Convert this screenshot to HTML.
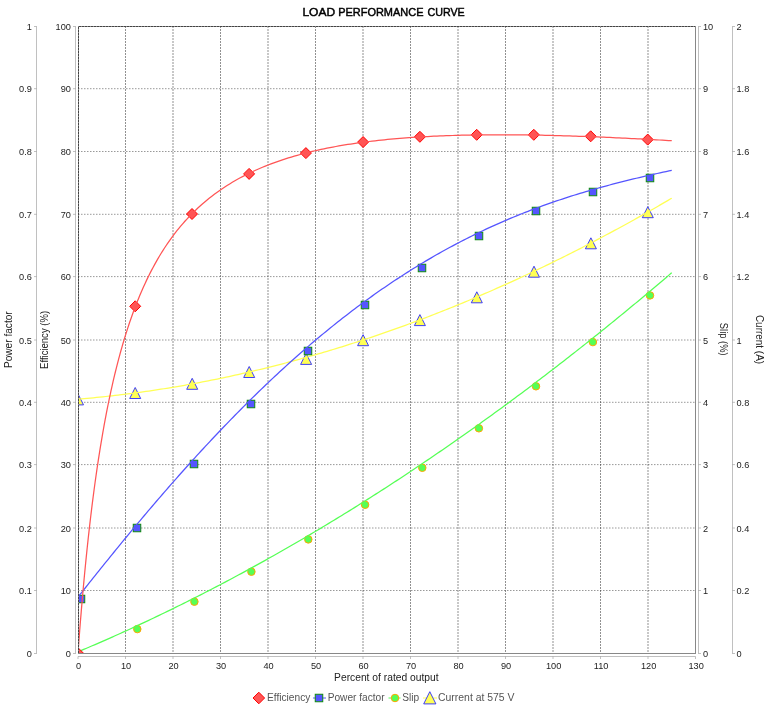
<!DOCTYPE html><html><head><meta charset="utf-8"><style>html,body{margin:0;padding:0;background:#fff;width:771px;height:712px;overflow:hidden}</style></head><body><svg width="771" height="712" viewBox="0 0 771 712" style="position:absolute;left:0;top:0">
<rect width="771" height="712" fill="#fff"/>
<g style="will-change:transform">
<text stroke="#000" stroke-width="0.45" x="302.41" y="16" font-family="Liberation Sans" font-weight="normal" font-size="11" fill="#000" textLength="32.64" lengthAdjust="spacingAndGlyphs">LOAD</text>
<text stroke="#000" stroke-width="0.45" x="338.20" y="16" font-family="Liberation Sans" font-weight="normal" font-size="11" fill="#000" textLength="85.26" lengthAdjust="spacingAndGlyphs">PERFORMANCE</text>
<text stroke="#000" stroke-width="0.45" x="427.43" y="16" font-family="Liberation Sans" font-weight="normal" font-size="11" fill="#000" textLength="37.28" lengthAdjust="spacingAndGlyphs">CURVE</text>
</g>
<g stroke="#222" stroke-width="0.5" stroke-dasharray="2 1" fill="none"><line x1="125.5" y1="26" x2="125.5" y2="653.5" /><line x1="173.0" y1="26" x2="173.0" y2="653.5" /><line x1="220.5" y1="26" x2="220.5" y2="653.5" /><line x1="268.0" y1="26" x2="268.0" y2="653.5" /><line x1="315.5" y1="26" x2="315.5" y2="653.5" /><line x1="363.0" y1="26" x2="363.0" y2="653.5" /><line x1="410.5" y1="26" x2="410.5" y2="653.5" /><line x1="458.0" y1="26" x2="458.0" y2="653.5" /><line x1="505.5" y1="26" x2="505.5" y2="653.5" /><line x1="553.0" y1="26" x2="553.0" y2="653.5" /><line x1="600.5" y1="26" x2="600.5" y2="653.5" /><line x1="648.0" y1="26" x2="648.0" y2="653.5" /></g>
<g stroke="#333" stroke-width="0.5" stroke-dasharray="1.5 1.5" fill="none"><line x1="78" y1="590.5" x2="695.5" y2="590.5" /><line x1="78" y1="528.0" x2="695.5" y2="528.0" /><line x1="78" y1="464.6" x2="695.5" y2="464.6" /><line x1="78" y1="402.3" x2="695.5" y2="402.3" /><line x1="78" y1="340.0" x2="695.5" y2="340.0" /><line x1="78" y1="276.6" x2="695.5" y2="276.6" /><line x1="78" y1="214.3" x2="695.5" y2="214.3" /><line x1="78" y1="151.5" x2="695.5" y2="151.5" /><line x1="78" y1="88.7" x2="695.5" y2="88.7" /></g>
<g stroke="#808080" stroke-width="0.5" fill="none"><line x1="36.5" y1="26.25" x2="36.5" y2="653.75"/><line x1="75.5" y1="26.25" x2="75.5" y2="653.75"/><line x1="698.5" y1="26.25" x2="698.5" y2="653.75"/><line x1="732.5" y1="26.25" x2="732.5" y2="653.75"/><line x1="78" y1="656.5" x2="695.5" y2="656.5"/><line x1="34" y1="653.5" x2="36.5" y2="653.5"/><line x1="73" y1="653.5" x2="75.5" y2="653.5"/><line x1="698.5" y1="653.5" x2="701" y2="653.5"/><line x1="732.5" y1="653.5" x2="735" y2="653.5"/><line x1="34" y1="590.5" x2="36.5" y2="590.5"/><line x1="73" y1="590.5" x2="75.5" y2="590.5"/><line x1="698.5" y1="590.5" x2="701" y2="590.5"/><line x1="732.5" y1="590.5" x2="735" y2="590.5"/><line x1="34" y1="528.0" x2="36.5" y2="528.0"/><line x1="73" y1="528.0" x2="75.5" y2="528.0"/><line x1="698.5" y1="528.0" x2="701" y2="528.0"/><line x1="732.5" y1="528.0" x2="735" y2="528.0"/><line x1="34" y1="464.6" x2="36.5" y2="464.6"/><line x1="73" y1="464.6" x2="75.5" y2="464.6"/><line x1="698.5" y1="464.6" x2="701" y2="464.6"/><line x1="732.5" y1="464.6" x2="735" y2="464.6"/><line x1="34" y1="402.3" x2="36.5" y2="402.3"/><line x1="73" y1="402.3" x2="75.5" y2="402.3"/><line x1="698.5" y1="402.3" x2="701" y2="402.3"/><line x1="732.5" y1="402.3" x2="735" y2="402.3"/><line x1="34" y1="340.0" x2="36.5" y2="340.0"/><line x1="73" y1="340.0" x2="75.5" y2="340.0"/><line x1="698.5" y1="340.0" x2="701" y2="340.0"/><line x1="732.5" y1="340.0" x2="735" y2="340.0"/><line x1="34" y1="276.6" x2="36.5" y2="276.6"/><line x1="73" y1="276.6" x2="75.5" y2="276.6"/><line x1="698.5" y1="276.6" x2="701" y2="276.6"/><line x1="732.5" y1="276.6" x2="735" y2="276.6"/><line x1="34" y1="214.3" x2="36.5" y2="214.3"/><line x1="73" y1="214.3" x2="75.5" y2="214.3"/><line x1="698.5" y1="214.3" x2="701" y2="214.3"/><line x1="732.5" y1="214.3" x2="735" y2="214.3"/><line x1="34" y1="151.5" x2="36.5" y2="151.5"/><line x1="73" y1="151.5" x2="75.5" y2="151.5"/><line x1="698.5" y1="151.5" x2="701" y2="151.5"/><line x1="732.5" y1="151.5" x2="735" y2="151.5"/><line x1="34" y1="88.7" x2="36.5" y2="88.7"/><line x1="73" y1="88.7" x2="75.5" y2="88.7"/><line x1="698.5" y1="88.7" x2="701" y2="88.7"/><line x1="732.5" y1="88.7" x2="735" y2="88.7"/><line x1="34" y1="26.5" x2="36.5" y2="26.5"/><line x1="73" y1="26.5" x2="75.5" y2="26.5"/><line x1="698.5" y1="26.5" x2="701" y2="26.5"/><line x1="732.5" y1="26.5" x2="735" y2="26.5"/><line x1="78.0" y1="656.5" x2="78.0" y2="659"/><line x1="125.5" y1="656.5" x2="125.5" y2="659"/><line x1="173.0" y1="656.5" x2="173.0" y2="659"/><line x1="220.5" y1="656.5" x2="220.5" y2="659"/><line x1="268.0" y1="656.5" x2="268.0" y2="659"/><line x1="315.5" y1="656.5" x2="315.5" y2="659"/><line x1="363.0" y1="656.5" x2="363.0" y2="659"/><line x1="410.5" y1="656.5" x2="410.5" y2="659"/><line x1="458.0" y1="656.5" x2="458.0" y2="659"/><line x1="505.5" y1="656.5" x2="505.5" y2="659"/><line x1="553.0" y1="656.5" x2="553.0" y2="659"/><line x1="600.5" y1="656.5" x2="600.5" y2="659"/><line x1="648.0" y1="656.5" x2="648.0" y2="659"/><line x1="695.5" y1="656.5" x2="695.5" y2="659"/></g>
<g font-family="Liberation Sans" font-size="9.2" fill="#222" style="will-change:transform"><text x="31.9" y="657" text-anchor="end">0</text><text x="70.9" y="657" text-anchor="end">0</text><text x="703" y="657">0</text><text x="736.5" y="657">0</text><text x="31.9" y="594" text-anchor="end">0.1</text><text x="70.9" y="594" text-anchor="end">10</text><text x="703" y="594">1</text><text x="736.5" y="594">0.2</text><text x="31.9" y="532" text-anchor="end">0.2</text><text x="70.9" y="532" text-anchor="end">20</text><text x="703" y="532">2</text><text x="736.5" y="532">0.4</text><text x="31.9" y="468" text-anchor="end">0.3</text><text x="70.9" y="468" text-anchor="end">30</text><text x="703" y="468">3</text><text x="736.5" y="468">0.6</text><text x="31.9" y="406" text-anchor="end">0.4</text><text x="70.9" y="406" text-anchor="end">40</text><text x="703" y="406">4</text><text x="736.5" y="406">0.8</text><text x="31.9" y="344" text-anchor="end">0.5</text><text x="70.9" y="344" text-anchor="end">50</text><text x="703" y="344">5</text><text x="736.5" y="344">1</text><text x="31.9" y="280" text-anchor="end">0.6</text><text x="70.9" y="280" text-anchor="end">60</text><text x="703" y="280">6</text><text x="736.5" y="280">1.2</text><text x="31.9" y="218" text-anchor="end">0.7</text><text x="70.9" y="218" text-anchor="end">70</text><text x="703" y="218">7</text><text x="736.5" y="218">1.4</text><text x="31.9" y="155" text-anchor="end">0.8</text><text x="70.9" y="155" text-anchor="end">80</text><text x="703" y="155">8</text><text x="736.5" y="155">1.6</text><text x="31.9" y="92" text-anchor="end">0.9</text><text x="70.9" y="92" text-anchor="end">90</text><text x="703" y="92">9</text><text x="736.5" y="92">1.8</text><text x="31.9" y="30" text-anchor="end">1</text><text x="70.9" y="30" text-anchor="end">100</text><text x="703" y="30">10</text><text x="736.5" y="30">2</text><text x="78.6" y="669" text-anchor="middle">0</text><text x="126.1" y="669" text-anchor="middle">10</text><text x="173.6" y="669" text-anchor="middle">20</text><text x="221.1" y="669" text-anchor="middle">30</text><text x="268.6" y="669" text-anchor="middle">40</text><text x="316.1" y="669" text-anchor="middle">50</text><text x="363.6" y="669" text-anchor="middle">60</text><text x="411.1" y="669" text-anchor="middle">70</text><text x="458.6" y="669" text-anchor="middle">80</text><text x="506.1" y="669" text-anchor="middle">90</text><text x="553.6" y="669" text-anchor="middle">100</text><text x="601.1" y="669" text-anchor="middle">110</text><text x="648.6" y="669" text-anchor="middle">120</text><text x="696.1" y="669" text-anchor="middle">130</text></g>
<g style="will-change:transform">
<text x="334.07" y="681" font-family="Liberation Sans" font-weight="normal" font-size="10" fill="#222" textLength="104.55" lengthAdjust="spacingAndGlyphs">Percent of rated output</text>
<text transform="translate(12.1,368.11) rotate(-90)" font-family="Liberation Sans" font-size="10" fill="#222" textLength="56.86" lengthAdjust="spacingAndGlyphs">Power factor</text>
<text transform="translate(48.1,368.95) rotate(-90)" font-family="Liberation Sans" font-size="10" fill="#222" textLength="58.06" lengthAdjust="spacingAndGlyphs">Efficiency (%)</text>
<text transform="translate(719.9,322.87) rotate(90)" font-family="Liberation Sans" font-size="10" fill="#222" textLength="32.68" lengthAdjust="spacingAndGlyphs">Slip (%)</text>
<text transform="translate(755.9,314.90) rotate(90)" font-family="Liberation Sans" font-size="10" fill="#222" textLength="49.25" lengthAdjust="spacingAndGlyphs">Current (A)</text>
</g>
<defs><clipPath id="pc"><rect x="78" y="26" width="617.5" height="627.5"/></clipPath></defs>
<g clip-path="url(#pc)">
<g fill="#ffff55" stroke="#2a2aff" stroke-width="0.9"><path d="M78.00,393.90 L83.50,404.90 L72.50,404.90 Z"/><path d="M135.20,387.50 L140.70,398.50 L129.70,398.50 Z"/><path d="M192.20,378.30 L197.70,389.30 L186.70,389.30 Z"/><path d="M249.20,366.50 L254.70,377.50 L243.70,377.50 Z"/><path d="M306.10,353.40 L311.60,364.40 L300.60,364.40 Z"/><path d="M363.10,334.70 L368.60,345.70 L357.60,345.70 Z"/><path d="M419.90,314.60 L425.40,325.60 L414.40,325.60 Z"/><path d="M476.80,291.80 L482.30,302.80 L471.30,302.80 Z"/><path d="M534.00,266.20 L539.50,277.20 L528.50,277.20 Z"/><path d="M590.90,237.80 L596.40,248.80 L585.40,248.80 Z"/><path d="M647.80,206.70 L653.30,217.70 L642.30,217.70 Z"/></g>
<path d="M78.00,399.18 L81.09,398.92 L84.18,398.64 L87.26,398.36 L90.35,398.07 L93.44,397.78 L96.53,397.47 L99.62,397.15 L102.70,396.83 L105.79,396.50 L108.88,396.16 L111.97,395.81 L115.06,395.46 L118.15,395.09 L121.23,394.72 L124.32,394.34 L127.41,393.95 L130.50,393.55 L133.59,393.15 L136.67,392.73 L139.76,392.31 L142.85,391.88 L145.94,391.44 L148.91,391.01 L151.88,390.57 L154.85,390.13 L157.82,389.68 L160.79,389.22 L163.75,388.75 L166.72,388.27 L169.69,387.79 L172.66,387.30 L175.63,386.80 L178.60,386.29 L181.57,385.78 L184.54,385.26 L187.51,384.73 L190.48,384.19 L193.45,383.65 L196.42,383.10 L199.39,382.54 L202.36,381.97 L205.33,381.39 L208.29,380.81 L211.26,380.22 L214.23,379.62 L217.20,379.02 L220.17,378.41 L223.14,377.79 L226.11,377.16 L229.08,376.52 L232.05,375.88 L235.02,375.23 L237.99,374.57 L240.96,373.91 L243.93,373.23 L246.90,372.55 L249.87,371.86 L252.83,371.17 L255.80,370.46 L258.77,369.75 L261.74,369.03 L264.71,368.31 L267.68,367.57 L270.65,366.83 L273.62,366.08 L276.59,365.33 L279.56,364.56 L282.53,363.79 L285.50,363.01 L288.47,362.22 L291.44,361.43 L294.41,360.63 L297.38,359.82 L300.34,359.00 L303.31,358.18 L306.28,357.34 L309.25,356.51 L312.22,355.66 L315.19,354.80 L318.16,353.94 L321.13,353.07 L324.10,352.20 L327.07,351.31 L330.04,350.42 L333.01,349.52 L335.98,348.61 L338.95,347.70 L341.92,346.78 L344.88,345.85 L347.85,344.91 L350.82,343.96 L353.79,343.01 L356.76,342.05 L359.73,341.09 L362.58,340.15 L365.43,339.21 L368.28,338.26 L371.13,337.30 L373.98,336.34 L376.83,335.37 L379.69,334.39 L382.54,333.41 L385.39,332.42 L388.24,331.42 L391.09,330.42 L393.94,329.41 L396.79,328.39 L399.64,327.36 L402.49,326.33 L405.34,325.29 L408.19,324.25 L411.04,323.20 L413.89,322.14 L416.74,321.07 L419.59,320.00 L422.44,318.92 L425.29,317.83 L428.15,316.74 L431.00,315.64 L433.85,314.53 L436.70,313.42 L439.55,312.29 L442.40,311.17 L445.25,310.03 L448.10,308.89 L450.95,307.74 L453.80,306.59 L456.65,305.43 L459.50,304.26 L462.35,303.08 L465.20,301.90 L468.05,300.71 L470.90,299.51 L473.75,298.31 L476.60,297.10 L479.46,295.89 L482.31,294.66 L485.16,293.43 L488.01,292.20 L490.86,290.95 L493.71,289.70 L496.56,288.44 L499.41,287.18 L502.26,285.91 L505.11,284.63 L507.96,283.35 L510.81,282.06 L513.54,280.81 L516.28,279.56 L519.01,278.31 L521.74,277.04 L524.47,275.77 L527.20,274.50 L529.93,273.22 L532.67,271.93 L535.40,270.64 L538.13,269.34 L540.86,268.03 L543.59,266.72 L546.32,265.40 L549.06,264.07 L551.79,262.74 L554.52,261.41 L557.25,260.06 L559.98,258.71 L562.72,257.36 L565.45,256.00 L568.18,254.63 L570.91,253.25 L573.64,251.87 L576.37,250.49 L579.11,249.09 L581.84,247.69 L584.57,246.29 L587.30,244.88 L590.03,243.46 L592.77,242.04 L595.50,240.61 L598.23,239.17 L600.96,237.73 L603.69,236.28 L606.42,234.82 L609.16,233.36 L611.89,231.90 L614.62,230.42 L617.35,228.94 L620.08,227.46 L622.82,225.96 L625.55,224.47 L628.28,222.96 L631.01,221.45 L633.74,219.94 L636.47,218.41 L639.21,216.88 L641.94,215.35 L644.55,213.88 L647.16,212.40 L649.78,210.91 L652.39,209.42 L655.00,207.92 L657.62,206.42 L660.23,204.91 L662.84,203.40 L665.45,201.88 L668.07,200.36 L670.68,198.83 L671.75,198.20" stroke="#ffff55" stroke-width="1.25" fill="none"/>
<g fill="#55ff55" stroke="#ffa500" stroke-width="1"><circle cx="137.30" cy="629.10" r="3.75"/><circle cx="194.40" cy="601.70" r="3.75"/><circle cx="251.40" cy="571.70" r="3.75"/><circle cx="308.30" cy="539.40" r="3.75"/><circle cx="365.10" cy="504.80" r="3.75"/><circle cx="422.30" cy="467.80" r="3.75"/><circle cx="478.90" cy="428.30" r="3.75"/><circle cx="536.00" cy="386.30" r="3.75"/><circle cx="592.90" cy="342.10" r="3.75"/><circle cx="650.00" cy="295.40" r="3.75"/></g>
<path d="M78.00,651.85 L80.85,650.65 L83.70,649.44 L86.55,648.23 L89.40,647.01 L92.25,645.79 L95.10,644.56 L97.95,643.33 L100.80,642.08 L103.66,640.84 L106.51,639.58 L109.36,638.32 L112.21,637.06 L115.06,635.79 L117.91,634.51 L120.76,633.23 L123.61,631.94 L126.34,630.70 L129.07,629.45 L131.80,628.20 L134.54,626.94 L137.27,625.68 L140.00,624.41 L142.73,623.13 L145.46,621.85 L148.20,620.57 L150.93,619.28 L153.66,617.98 L156.39,616.68 L159.12,615.37 L161.85,614.06 L164.59,612.74 L167.32,611.41 L170.05,610.09 L172.78,608.75 L175.51,607.41 L178.25,606.06 L180.98,604.71 L183.71,603.35 L186.44,601.99 L189.17,600.62 L191.90,599.25 L194.64,597.87 L197.37,596.49 L200.10,595.10 L202.83,593.70 L205.56,592.30 L208.29,590.89 L211.03,589.48 L213.76,588.06 L216.49,586.64 L219.22,585.21 L221.95,583.78 L224.69,582.34 L227.42,580.89 L230.15,579.44 L232.88,577.98 L235.61,576.52 L238.34,575.06 L241.08,573.58 L243.81,572.10 L246.54,570.62 L249.27,569.13 L252.00,567.64 L254.74,566.14 L257.47,564.63 L260.20,563.12 L262.93,561.60 L265.66,560.08 L268.39,558.55 L271.13,557.02 L273.86,555.48 L276.47,554.00 L279.08,552.52 L281.70,551.03 L284.31,549.54 L286.92,548.04 L289.54,546.54 L292.15,545.03 L294.76,543.52 L297.38,542.00 L299.99,540.48 L302.60,538.95 L305.21,537.42 L307.83,535.89 L310.44,534.34 L313.05,532.80 L315.67,531.24 L318.28,529.68 L320.89,528.12 L323.51,526.55 L326.12,524.98 L328.73,523.40 L331.34,521.82 L333.96,520.23 L336.57,518.64 L339.18,517.04 L341.80,515.44 L344.41,513.83 L347.02,512.22 L349.64,510.60 L352.25,508.98 L354.86,507.35 L357.47,505.72 L360.09,504.08 L362.70,502.44 L365.31,500.79 L367.93,499.14 L370.54,497.48 L373.15,495.81 L375.77,494.15 L378.38,492.47 L380.99,490.79 L383.60,489.11 L386.22,487.42 L388.83,485.73 L391.44,484.03 L394.06,482.33 L396.67,480.62 L399.28,478.91 L401.90,477.19 L404.51,475.46 L407.12,473.74 L409.74,472.00 L412.35,470.26 L414.96,468.52 L417.46,466.85 L419.95,465.18 L422.44,463.50 L424.94,461.82 L427.43,460.13 L429.93,458.44 L432.42,456.74 L434.92,455.04 L437.41,453.34 L439.90,451.63 L442.40,449.91 L444.89,448.19 L447.39,446.47 L449.88,444.74 L452.37,443.01 L454.87,441.27 L457.36,439.53 L459.86,437.78 L462.35,436.03 L464.85,434.27 L467.34,432.51 L469.83,430.75 L472.33,428.98 L474.82,427.20 L477.32,425.43 L479.81,423.64 L482.31,421.85 L484.80,420.06 L487.29,418.27 L489.79,416.46 L492.28,414.66 L494.78,412.85 L497.27,411.03 L499.77,409.21 L502.26,407.39 L504.75,405.56 L507.25,403.73 L509.74,401.89 L512.24,400.04 L514.73,398.20 L517.23,396.35 L519.72,394.49 L522.21,392.63 L524.71,390.76 L527.20,388.89 L529.70,387.02 L532.19,385.14 L534.69,383.26 L537.18,381.37 L539.67,379.48 L542.17,377.58 L544.66,375.68 L547.16,373.77 L549.65,371.86 L552.14,369.94 L554.64,368.02 L557.01,366.19 L559.39,364.35 L561.77,362.51 L564.14,360.67 L566.52,358.82 L568.89,356.96 L571.27,355.11 L573.64,353.24 L576.02,351.38 L578.39,349.51 L580.77,347.63 L583.14,345.75 L585.52,343.87 L587.90,341.99 L590.27,340.09 L592.65,338.20 L595.02,336.30 L597.40,334.40 L599.77,332.49 L602.15,330.58 L604.52,328.66 L606.90,326.74 L609.28,324.82 L611.65,322.89 L614.03,320.96 L616.40,319.02 L618.78,317.08 L621.15,315.14 L623.53,313.19 L625.90,311.24 L628.28,309.28 L630.65,307.32 L633.03,305.35 L635.41,303.38 L637.78,301.41 L640.16,299.43 L642.53,297.45 L644.91,295.46 L647.28,293.47 L649.66,291.48 L652.03,289.48 L654.41,287.48 L656.78,285.47 L659.16,283.46 L661.54,281.45 L663.91,279.43 L666.29,277.41 L668.66,275.38 L671.04,273.35 L671.75,272.74" stroke="#55ff55" stroke-width="1.25" fill="none"/>
<g fill="#5555ff" stroke="#108a10" stroke-width="1"><rect x="77.25" y="595.25" width="7.5" height="7.5"/><rect x="133.25" y="524.25" width="7.5" height="7.5"/><rect x="190.25" y="460.25" width="7.5" height="7.5"/><rect x="247.25" y="400.25" width="7.5" height="7.5"/><rect x="304.25" y="347.25" width="7.5" height="7.5"/><rect x="361.25" y="301.25" width="7.5" height="7.5"/><rect x="418.25" y="264.25" width="7.5" height="7.5"/><rect x="475.25" y="232.25" width="7.5" height="7.5"/><rect x="532.25" y="207.25" width="7.5" height="7.5"/><rect x="589.25" y="188.25" width="7.5" height="7.5"/><rect x="646.25" y="174.25" width="7.5" height="7.5"/></g>
<path d="M78.00,597.11 L79.90,594.70 L81.80,592.29 L83.70,589.89 L85.60,587.49 L87.50,585.09 L89.40,582.70 L91.30,580.32 L93.20,577.93 L95.10,575.55 L97.00,573.18 L98.90,570.81 L100.80,568.44 L102.70,566.08 L104.61,563.72 L106.51,561.37 L108.41,559.02 L110.31,556.67 L112.21,554.33 L114.11,552.00 L116.01,549.67 L117.91,547.34 L119.93,544.87 L121.95,542.41 L123.97,539.96 L125.98,537.51 L128.00,535.07 L130.02,532.63 L132.04,530.20 L134.06,527.77 L136.08,525.35 L138.10,522.94 L140.12,520.53 L142.14,518.13 L144.16,515.74 L146.18,513.35 L148.20,510.96 L150.21,508.59 L152.23,506.22 L154.25,503.86 L156.27,501.50 L158.29,499.15 L160.31,496.81 L162.33,494.47 L164.35,492.14 L166.37,489.82 L168.39,487.50 L170.41,485.19 L172.43,482.89 L174.44,480.60 L176.46,478.31 L178.48,476.03 L180.50,473.75 L182.52,471.49 L184.54,469.23 L186.56,466.98 L188.58,464.73 L190.60,462.50 L192.62,460.27 L194.64,458.05 L196.77,455.70 L198.91,453.37 L201.05,451.04 L203.19,448.72 L205.33,446.41 L207.46,444.11 L209.60,441.82 L211.74,439.54 L213.88,437.27 L216.02,435.00 L218.15,432.74 L220.29,430.50 L222.43,428.26 L224.57,426.03 L226.70,423.81 L228.84,421.60 L230.98,419.40 L233.12,417.21 L235.26,415.03 L237.39,412.85 L239.53,410.69 L241.67,408.54 L243.81,406.39 L245.95,404.26 L248.08,402.13 L250.22,400.02 L252.36,397.91 L254.62,395.70 L256.87,393.49 L259.13,391.30 L261.39,389.12 L263.64,386.95 L265.90,384.80 L268.16,382.65 L270.41,380.51 L272.67,378.39 L274.93,376.27 L277.18,374.17 L279.44,372.08 L281.70,370.00 L283.95,367.93 L286.21,365.87 L288.47,363.83 L290.72,361.79 L292.98,359.77 L295.24,357.76 L297.49,355.75 L299.75,353.76 L302.01,351.79 L304.38,349.72 L306.76,347.66 L309.13,345.61 L311.51,343.58 L313.88,341.56 L316.26,339.56 L318.64,337.56 L321.01,335.58 L323.39,333.61 L325.76,331.66 L328.14,329.72 L330.51,327.79 L332.89,325.87 L335.26,323.97 L337.64,322.08 L340.01,320.20 L342.39,318.34 L344.77,316.48 L347.14,314.65 L349.64,312.73 L352.13,310.83 L354.62,308.94 L357.12,307.06 L359.61,305.20 L362.11,303.36 L364.60,301.53 L367.10,299.71 L369.59,297.91 L372.08,296.12 L374.58,294.35 L377.07,292.59 L379.57,290.84 L382.06,289.11 L384.56,287.39 L387.05,285.69 L389.54,284.00 L392.04,282.32 L394.65,280.58 L397.26,278.86 L399.88,277.15 L402.49,275.46 L405.10,273.78 L407.72,272.12 L410.33,270.47 L412.94,268.84 L415.56,267.22 L418.17,265.62 L420.78,264.03 L423.39,262.46 L426.01,260.90 L428.62,259.36 L431.23,257.84 L433.85,256.33 L436.46,254.83 L439.07,253.35 L441.80,251.81 L444.54,250.30 L447.27,248.80 L450.00,247.31 L452.73,245.84 L455.46,244.39 L458.19,242.95 L460.93,241.53 L463.66,240.12 L466.39,238.73 L469.12,237.36 L471.85,236.00 L474.59,234.65 L477.32,233.33 L480.05,232.01 L482.78,230.71 L485.51,229.43 L488.24,228.16 L490.98,226.90 L493.83,225.61 L496.68,224.33 L499.53,223.07 L502.38,221.83 L505.23,220.60 L508.08,219.38 L510.93,218.18 L513.78,217.00 L516.63,215.83 L519.48,214.67 L522.33,213.53 L525.18,212.41 L528.03,211.30 L530.88,210.20 L533.73,209.12 L536.59,208.05 L539.44,207.00 L542.29,205.96 L545.14,204.93 L547.99,203.92 L550.84,202.92 L553.69,201.93 L556.54,200.96 L559.39,199.99 L562.24,199.05 L565.09,198.11 L568.06,197.15 L571.03,196.20 L574.00,195.27 L576.97,194.34 L579.94,193.43 L582.91,192.54 L585.88,191.65 L588.85,190.78 L591.82,189.92 L594.78,189.07 L597.75,188.23 L600.72,187.40 L603.69,186.59 L606.66,185.78 L609.63,184.99 L612.60,184.20 L615.57,183.43 L618.54,182.66 L621.51,181.91 L624.48,181.16 L627.45,180.42 L630.42,179.69 L633.39,178.98 L636.36,178.26 L639.32,177.56 L642.29,176.87 L645.26,176.18 L648.23,175.50 L651.20,174.82 L654.17,174.16 L657.14,173.50 L660.11,172.84 L663.08,172.19 L666.05,171.55 L669.02,170.92 L671.75,170.33" stroke="#5555ff" stroke-width="1.25" fill="none"/>
<g fill="#ff5555" stroke="#ff0000" stroke-width="1"><path d="M78.00,647.70 L83.50,653.20 L78.00,658.70 L72.50,653.20 Z"/><path d="M135.20,300.80 L140.70,306.30 L135.20,311.80 L129.70,306.30 Z"/><path d="M192.00,208.50 L197.50,214.00 L192.00,219.50 L186.50,214.00 Z"/><path d="M249.10,168.40 L254.60,173.90 L249.10,179.40 L243.60,173.90 Z"/><path d="M305.90,147.60 L311.40,153.10 L305.90,158.60 L300.40,153.10 Z"/><path d="M363.10,136.55 L368.60,142.05 L363.10,147.55 L357.60,142.05 Z"/><path d="M419.90,131.30 L425.40,136.80 L419.90,142.30 L414.40,136.80 Z"/><path d="M476.70,129.30 L482.20,134.80 L476.70,140.30 L471.20,134.80 Z"/><path d="M533.80,129.30 L539.30,134.80 L533.80,140.30 L528.30,134.80 Z"/><path d="M590.70,130.80 L596.20,136.30 L590.70,141.80 L585.20,136.30 Z"/><path d="M647.70,134.10 L653.20,139.60 L647.70,145.10 L642.20,139.60 Z"/></g>
<path d="M78.00,653.00 L78.24,649.75 L78.48,646.54 L78.71,643.36 L78.95,640.21 L79.19,637.09 L79.43,634.01 L79.66,630.95 L79.90,627.93 L80.14,624.94 L80.49,620.50 L80.85,616.13 L81.21,611.83 L81.56,607.59 L81.92,603.41 L82.28,599.29 L82.63,595.22 L82.99,591.22 L83.34,587.27 L83.70,583.38 L84.06,579.54 L84.41,575.75 L84.77,572.02 L85.13,568.33 L85.48,564.70 L85.84,561.11 L86.20,557.57 L86.55,554.08 L86.91,550.64 L87.26,547.24 L87.62,543.88 L87.98,540.57 L88.33,537.30 L88.69,534.07 L89.05,530.89 L89.40,527.74 L89.76,524.63 L90.11,521.56 L90.47,518.53 L90.83,515.54 L91.30,511.60 L91.78,507.73 L92.25,503.92 L92.73,500.17 L93.20,496.48 L93.68,492.85 L94.15,489.28 L94.63,485.76 L95.10,482.29 L95.58,478.88 L96.05,475.52 L96.53,472.21 L97.00,468.95 L97.48,465.73 L97.95,462.57 L98.43,459.45 L98.90,456.37 L99.38,453.34 L99.85,450.36 L100.45,446.68 L101.04,443.07 L101.64,439.53 L102.23,436.04 L102.82,432.62 L103.42,429.25 L104.01,425.94 L104.61,422.69 L105.20,419.48 L105.79,416.34 L106.39,413.24 L106.98,410.20 L107.57,407.20 L108.17,404.25 L108.88,400.77 L109.59,397.36 L110.31,394.02 L111.02,390.73 L111.73,387.51 L112.44,384.34 L113.16,381.23 L113.87,378.18 L114.58,375.18 L115.29,372.24 L116.13,368.87 L116.96,365.56 L117.79,362.33 L118.62,359.16 L119.45,356.05 L120.28,353.00 L121.11,350.01 L121.95,347.08 L122.90,343.79 L123.85,340.58 L124.80,337.44 L125.75,334.36 L126.70,331.35 L127.65,328.39 L128.60,325.50 L129.67,322.32 L130.74,319.21 L131.80,316.18 L132.87,313.20 L133.94,310.30 L135.01,307.45 L136.20,304.37 L137.39,301.35 L138.57,298.41 L139.76,295.54 L140.95,292.73 L142.26,289.71 L143.56,286.77 L144.87,283.90 L146.18,281.11 L147.48,278.38 L148.91,275.47 L150.33,272.64 L151.76,269.88 L153.18,267.19 L154.73,264.36 L156.27,261.60 L157.82,258.91 L159.36,256.29 L161.02,253.55 L162.69,250.88 L164.35,248.28 L166.01,245.76 L167.79,243.13 L169.57,240.57 L171.36,238.08 L173.14,235.67 L175.04,233.16 L176.94,230.73 L178.84,228.37 L180.86,225.94 L182.88,223.57 L184.90,221.28 L186.92,219.05 L189.05,216.77 L191.19,214.55 L193.33,212.40 L195.59,210.19 L197.84,208.06 L200.10,205.99 L202.36,203.99 L204.73,201.94 L207.11,199.96 L209.48,198.04 L211.86,196.18 L214.35,194.29 L216.85,192.46 L219.34,190.69 L221.84,188.97 L224.45,187.23 L227.06,185.54 L229.67,183.91 L232.29,182.33 L234.90,180.80 L237.51,179.32 L240.24,177.82 L242.98,176.36 L245.71,174.96 L248.44,173.60 L251.17,172.28 L253.90,171.00 L256.75,169.72 L259.61,168.47 L262.46,167.26 L265.31,166.10 L268.16,164.97 L271.01,163.87 L273.86,162.82 L276.71,161.79 L279.56,160.80 L282.41,159.84 L285.38,158.87 L288.35,157.93 L291.32,157.03 L294.29,156.15 L297.26,155.30 L300.23,154.48 L303.20,153.69 L306.16,152.92 L309.13,152.18 L312.10,151.46 L315.07,150.76 L318.04,150.09 L321.01,149.44 L323.98,148.81 L326.95,148.20 L329.92,147.62 L332.89,147.05 L335.86,146.50 L338.83,145.97 L341.80,145.45 L344.77,144.96 L347.74,144.48 L350.70,144.02 L353.67,143.57 L356.64,143.14 L359.73,142.71 L362.82,142.29 L365.91,141.89 L369.00,141.50 L372.08,141.13 L375.17,140.77 L378.26,140.43 L381.35,140.10 L384.44,139.78 L387.52,139.47 L390.61,139.18 L393.70,138.90 L396.79,138.63 L399.88,138.37 L402.96,138.13 L406.05,137.89 L409.14,137.67 L412.23,137.45 L415.32,137.25 L418.41,137.05 L421.49,136.87 L424.58,136.69 L427.67,136.52 L430.76,136.37 L433.85,136.22 L436.93,136.08 L440.02,135.95 L443.11,135.82 L446.20,135.70 L449.29,135.60 L452.37,135.50 L455.46,135.40 L458.55,135.32 L461.64,135.24 L464.73,135.16 L467.82,135.10 L470.90,135.04 L473.99,134.99 L477.08,134.94 L480.17,134.90 L483.26,134.87 L486.34,134.84 L489.43,134.82 L492.52,134.80 L495.61,134.79 L498.70,134.79 L501.78,134.79 L504.87,134.79 L507.96,134.80 L511.05,134.82 L514.14,134.84 L517.23,134.87 L520.31,134.90 L523.40,134.93 L526.49,134.97 L529.58,135.02 L532.67,135.06 L535.75,135.12 L538.84,135.17 L541.93,135.24 L545.02,135.30 L548.11,135.37 L551.19,135.44 L554.28,135.52 L557.37,135.60 L560.46,135.69 L563.55,135.77 L566.64,135.87 L569.72,135.96 L572.81,136.06 L575.90,136.16 L578.99,136.27 L582.08,136.38 L585.16,136.49 L588.25,136.60 L591.34,136.72 L594.43,136.84 L597.52,136.97 L600.60,137.09 L603.69,137.22 L606.78,137.36 L609.87,137.49 L612.96,137.63 L616.05,137.77 L619.13,137.91 L622.22,138.06 L625.31,138.21 L628.40,138.36 L631.49,138.51 L634.57,138.67 L637.66,138.83 L640.75,138.99 L643.84,139.15 L646.93,139.32 L650.01,139.49 L653.10,139.66 L656.19,139.83 L659.28,140.00 L662.37,140.18 L665.45,140.36 L668.54,140.54 L671.63,140.72 L671.75,140.73" stroke="#ff5555" stroke-width="1.25" fill="none"/>
</g>
<g stroke="#888" stroke-width="1" fill="none" shape-rendering="crispEdges"><line x1="695.5" y1="26" x2="695.5" y2="654"/><line x1="78" y1="653.5" x2="696" y2="653.5"/></g>
<g stroke="#8a8a8a" stroke-width="1" fill="none" shape-rendering="crispEdges"><line x1="78.5" y1="26" x2="78.5" y2="654"/><line x1="78" y1="26.5" x2="696" y2="26.5"/></g>
<g stroke="#444" stroke-width="1" stroke-dasharray="2 1" fill="none" shape-rendering="crispEdges"><line x1="78.5" y1="27" x2="78.5" y2="653"/><line x1="79" y1="26.5" x2="695" y2="26.5"/></g>
<g>
<g fill="#ff5555" stroke="#ff0000" stroke-width="1"><path d="M258.80,692.20 L264.60,698.00 L258.80,703.80 L253.00,698.00 Z"/></g>
<line x1="313" y1="698" x2="326" y2="698" stroke="#5555ff" stroke-width="1"/>
<g fill="#5555ff" stroke="#108a10" stroke-width="1"><rect x="315.25" y="694.25" width="7.5" height="7.5"/></g>
<line x1="388.5" y1="698" x2="400.5" y2="698" stroke="#55ff55" stroke-width="1"/>
<g fill="#55ff55" stroke="#ffa500" stroke-width="1"><circle cx="395.00" cy="698.00" r="3.75"/></g>
<line x1="423" y1="698" x2="437" y2="698" stroke="#ffff55" stroke-width="1"/>
<g fill="#ffff55" stroke="#2a2aff" stroke-width="0.9"><path d="M429.80,691.70 L435.90,703.90 L423.70,703.90 Z"/></g>
</g><g style="will-change:transform">
<text x="266.98" y="701" font-family="Liberation Sans" font-weight="normal" font-size="10" fill="#555" textLength="43.35" lengthAdjust="spacingAndGlyphs">Efficiency</text>
<text x="327.69" y="701" font-family="Liberation Sans" font-weight="normal" font-size="10" fill="#555" textLength="56.96" lengthAdjust="spacingAndGlyphs">Power factor</text>
<text x="402.19" y="701" font-family="Liberation Sans" font-weight="normal" font-size="10" fill="#555" textLength="16.91" lengthAdjust="spacingAndGlyphs">Slip</text>
<text x="438.06" y="701" font-family="Liberation Sans" font-weight="normal" font-size="10" fill="#555" textLength="76.43" lengthAdjust="spacingAndGlyphs">Current at 575 V</text>
</g>
</svg></body></html>
